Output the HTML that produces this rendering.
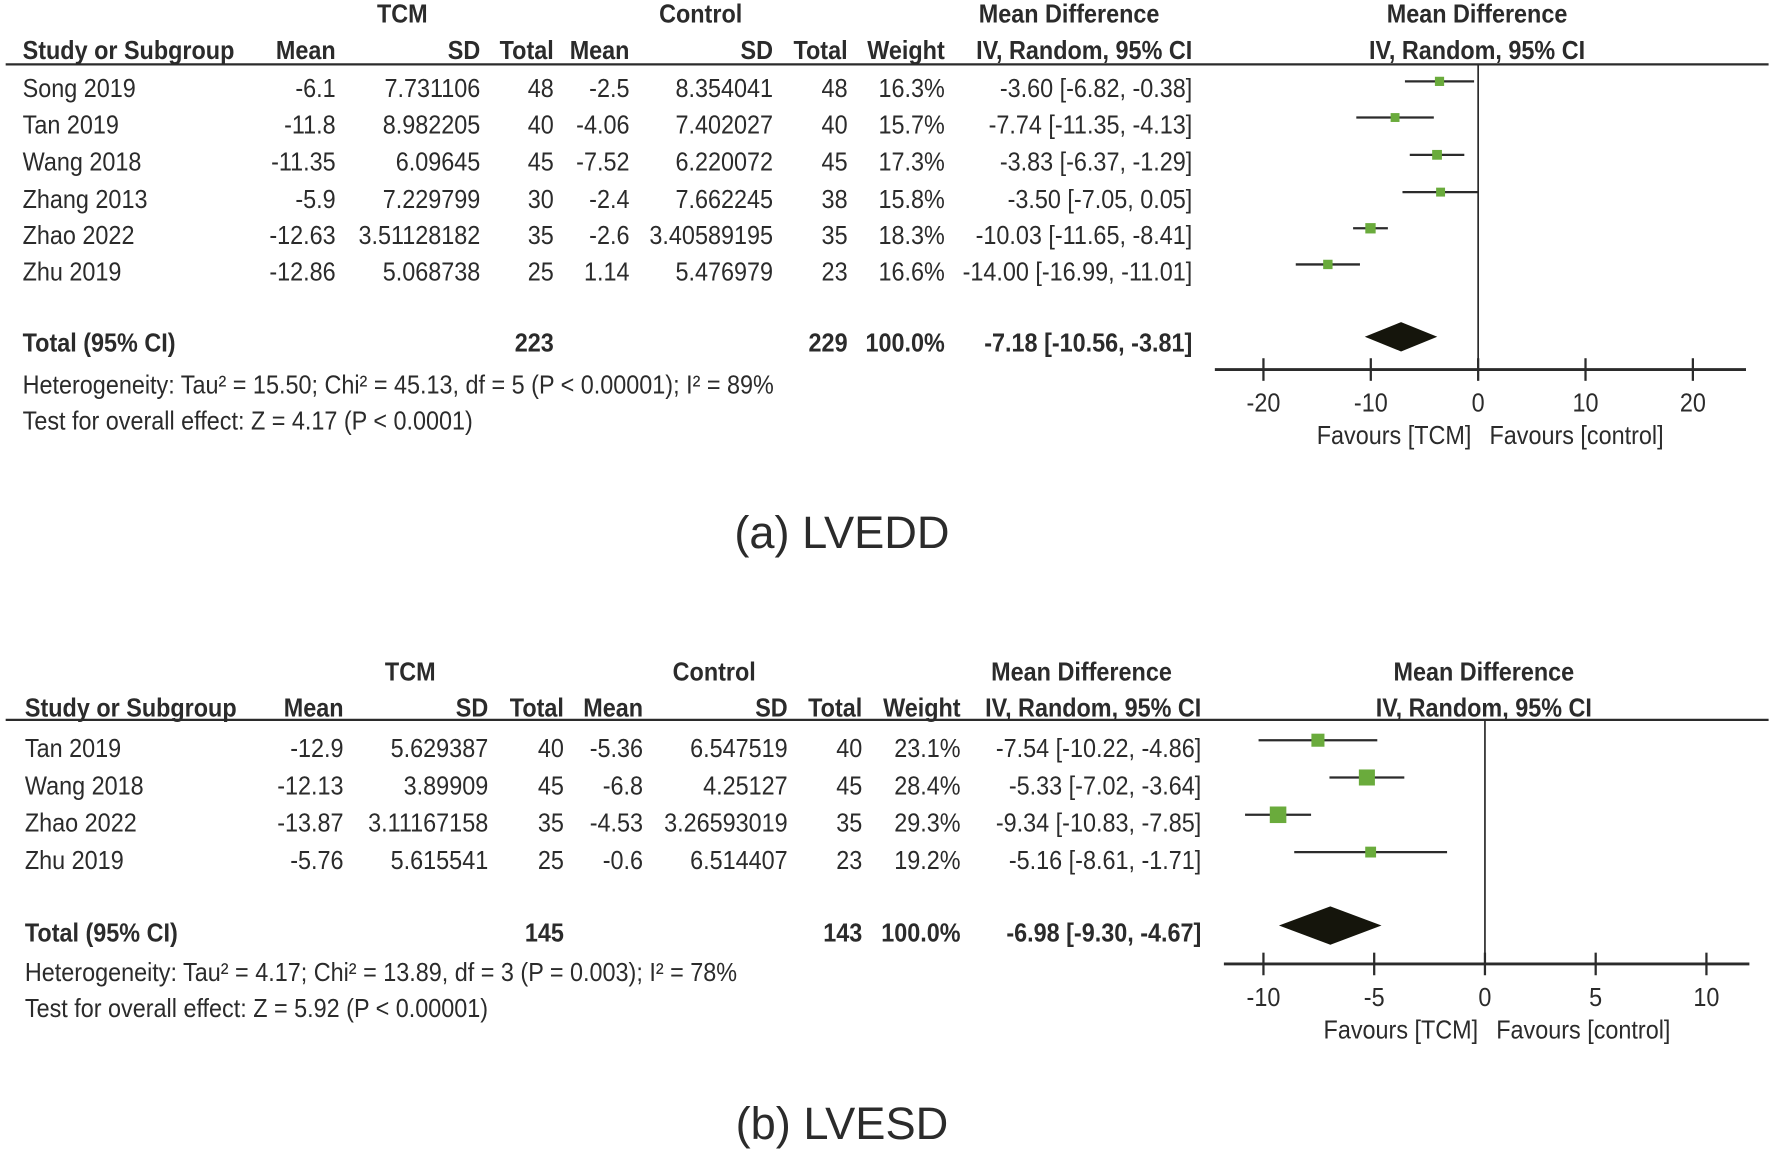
<!DOCTYPE html>
<html><head><meta charset="utf-8"><style>
html,body{margin:0;padding:0;background:#fff;}
svg{display:block;}
text{font-family:"Liberation Sans Narrow","Liberation Sans",sans-serif;fill:#2b2b2b;font-size:23px;}
.b{font-weight:bold;}
</style></head><body>
<svg id="fig" width="1772" height="1152" viewBox="0 0 1568 1019.4" xmlns="http://www.w3.org/2000/svg"></svg>
<script>
// Panel A data (LVEDD)
const aStudies = ["Song 2019","Tan 2019","Wang 2018","Zhang 2013","Zhao 2022","Zhu 2019"];
const aTcmMean = ["-6.1","-11.8","-11.35","-5.9","-12.63","-12.86"];
const aTcmSd = ["7.731106","8.982205","6.09645","7.229799","3.51128182","5.068738"];
const aTcmN = ["48","40","45","30","35","25"];
const aCtlMean = ["-2.5","-4.06","-7.52","-2.4","-2.6","1.14"];
const aCtlSd = ["8.354041","7.402027","6.220072","7.662245","3.40589195","5.476979"];
const aCtlN = ["48","40","45","38","35","23"];
const aWeight = [16.3,15.7,17.3,15.8,18.3,16.6];
const aMd = [-3.60,-7.74,-3.83,-3.50,-10.03,-14.00];
const aLo = [-6.82,-11.35,-6.37,-7.05,-11.65,-16.99];
const aHi = [-0.38,-4.13,-1.29,0.05,-8.41,-11.01];
const aTotal = {md:-7.18, lo:-10.56, hi:-3.81, n1:"223", n2:"229"};
const aTicks = [-20,-10,0,10,20];
// Panel B data (LVESD)
const bStudies = ["Tan 2019","Wang 2018","Zhao 2022","Zhu 2019"];
const bTcmMean = ["-12.9","-12.13","-13.87","-5.76"];
const bTcmSd = ["5.629387","3.89909","3.11167158","5.615541"];
const bTcmN = ["40","45","35","25"];
const bCtlMean = ["-5.36","-6.8","-4.53","-0.6"];
const bCtlSd = ["6.547519","4.25127","3.26593019","6.514407"];
const bCtlN = ["40","45","35","23"];
const bWeight = [23.1,28.4,29.3,19.2];
const bMd = [-7.54,-5.33,-9.34,-5.16];
const bLo = [-10.22,-7.02,-10.83,-8.61];
const bHi = [-4.86,-3.64,-7.85,-1.71];
const bTotal = {md:-6.98, lo:-9.30, hi:-4.67, n1:"145", n2:"143"};
const bTicks = [-10,-5,0,5,10];

const NS="http://www.w3.org/2000/svg";
const svg=document.getElementById('fig');
function mk(tag,attrs,parent){const e=document.createElementNS(NS,tag);for(const k in attrs)e.setAttribute(k,attrs[k]);(parent||svg).appendChild(e);return e;}
function txt(x,y,s,anchor,bold,name,size,g){
  const sx=size?1:0.9;
  const t=mk('text',{x:0,y:0,'text-anchor':anchor||'start',transform:`translate(${x},${y}) scale(${sx},1)`},g);
  if(bold)t.setAttribute('class','b');if(size)t.style.fontSize=size+'px';t.textContent=s;
  
  
  return t;}
const f2=v=>v.toFixed(2);

function panel(o){
  const g=mk('g',{});
  
  
  const y0=o.y0, c=o.cols, TO=o.textOff;
  txt(c.tcmH,y0+20,"TCM",'middle',true,'tcm-header',null,g);
  txt(c.ctlH,y0+20,"Control",'middle',true,'control-header',null,g);
  txt(c.mdH,y0+20,"Mean Difference",'middle',true,'mean-difference-header',null,g);
  txt(c.plotH,y0+20,"Mean Difference",'middle',true,'plot-header',null,g);
  const y1=y0+52;
  txt(c.study,y1,"Study or Subgroup",'start',true,'study-header',null,g);
  txt(c.m1,y1,"Mean",'end',true,'tcm-mean-header',null,g);
  txt(c.s1,y1,"SD",'end',true,'tcm-sd-header',null,g);
  txt(c.n1,y1,"Total",'end',true,'tcm-total-header',null,g);
  txt(c.m2,y1,"Mean",'end',true,'control-mean-header',null,g);
  txt(c.s2,y1,"SD",'end',true,'control-sd-header',null,g);
  txt(c.n2,y1,"Total",'end',true,'control-total-header',null,g);
  txt(c.w,y1,"Weight",'end',true,'weight-header',null,g);
  txt(c.ci,y1,"IV, Random, 95% CI",'end',true,'ci-header',null,g);
  txt(c.plotH,y1,"IV, Random, 95% CI",'middle',true,'plot-ci-header',null,g);
  const hy=y0+o.ruleOff;
  const hl=mk('line',{x1:5,x2:1565,y1:hy,y2:hy,stroke:'#2b2b2b','stroke-width':2},g);
  
  
  const X=v=>o.zeroX+v*o.unit;
  const d=o.d;
  d.st.forEach((s,i)=>{
    const y=o.rowY[i];
    txt(c.study,y+TO,s,'start',false,'study-name',null,g);
    txt(c.m1,y+TO,d.m1[i],'end',false,'tcm-mean',null,g);
    txt(c.s1,y+TO,d.s1[i],'end',false,'tcm-sd',null,g);
    txt(c.n1,y+TO,d.n1[i],'end',false,'tcm-total',null,g);
    txt(c.m2,y+TO,d.m2[i],'end',false,'control-mean',null,g);
    txt(c.s2,y+TO,d.s2[i],'end',false,'control-sd',null,g);
    txt(c.n2,y+TO,d.n2[i],'end',false,'control-total',null,g);
    txt(c.w,y+TO,d.w[i].toFixed(1)+'%','end',false,'weight',null,g);
    txt(c.ci,y+TO,f2(d.md[i])+' ['+f2(d.lo[i])+', '+f2(d.hi[i])+']','end',false,'ci-text',null,g);
    const l=mk('line',{x1:X(d.lo[i]),x2:X(d.hi[i]),y1:y,y2:y,stroke:'#2b2b2b','stroke-width':2},g);
    
    
    const sz=d.w[i]*o.sq;
    const r=mk('rect',{x:X(d.md[i])-sz/2,y:y-sz/2,width:sz,height:sz,fill:'#6aab3c'},g);
    
    
  });
  const ty=o.totY;
  txt(c.study,ty+TO-1,"Total (95% CI)",'start',true,'total-label',null,g);
  txt(c.n1,ty+TO-1,o.tot.n1,'end',true,'tcm-total-sum',null,g);
  txt(c.n2,ty+TO-1,o.tot.n2,'end',true,'control-total-sum',null,g);
  txt(c.w,ty+TO-1,"100.0%",'end',true,'total-weight',null,g);
  txt(c.ci,ty+TO-1,f2(o.tot.md)+' ['+f2(o.tot.lo)+', '+f2(o.tot.hi)+']','end',true,'total-ci',null,g);
  const dh=o.dh;
  const dm=mk('polygon',{points:`${X(o.tot.lo)},${ty} ${X(o.tot.md)},${ty-dh} ${X(o.tot.hi)},${ty} ${X(o.tot.md)},${ty+dh}`,fill:'#15150c'},g);
  
  
  txt(c.study,o.hetY,o.het,'start',false,'heterogeneity-text',null,g);
  txt(c.study,o.hetY+32,o.test,'start',false,'overall-effect-text',null,g);
  const zl=mk('line',{x1:X(0),x2:X(0),y1:hy,y2:o.axY,stroke:'#2b2b2b','stroke-width':1.5},g);
  
  
  const ax=mk('line',{x1:o.axX1,x2:o.axX2,y1:o.axY,y2:o.axY,stroke:'#2b2b2b','stroke-width':2.5},g);
  
  
  o.ticks.forEach(t=>{
    const tk=mk('line',{x1:X(t),x2:X(t),y1:o.axY-10,y2:o.axY+10,stroke:'#2b2b2b','stroke-width':2},g);
    
    
    txt(X(t),o.axY+37,String(t),'middle',false,'x-tick-label',null,g);
  });
  txt(X(0)-6,o.axY+66,"Favours [TCM]",'end',false,'favours-tcm-label',null,g);
  txt(X(0)+10,o.axY+66,"Favours [control]",'start',false,'favours-control-label',null,g);
  txt(745,o.capY,o.cap,'middle',false,'panel-caption',40,g);
}

panel({id:'lvedd',y0:0,ruleOff:57,textOff:14,
  cols:{tcmH:356,ctlH:620,mdH:946,plotH:1307,study:20,m1:297,s1:425,n1:490,m2:557,s2:684,n2:750,w:836,ci:1055},
  d:{st:aStudies,m1:aTcmMean,s1:aTcmSd,n1:aTcmN,m2:aCtlMean,s2:aCtlSd,n2:aCtlN,w:aWeight,md:aMd,lo:aLo,hi:aHi},
  rowY:[72,104,137,170,202,234],totY:298,tot:aTotal,dh:13,sq:0.5,
  zeroX:1308,unit:9.5,ticks:aTicks,axX1:1075,axX2:1545,axY:327,
  het:"Heterogeneity: Tau² = 15.50; Chi² = 45.13, df = 5 (P < 0.00001); I² = 89%",
  test:"Test for overall effect: Z = 4.17 (P < 0.0001)",hetY:348,capY:485,cap:"(a) LVEDD"});
panel({id:'lvesd',y0:582,ruleOff:55,textOff:15,
  cols:{tcmH:363,ctlH:632,mdH:957,plotH:1313,study:22,m1:304,s1:432,n1:499,m2:569,s2:697,n2:763,w:850,ci:1063},
  d:{st:bStudies,m1:bTcmMean,s1:bTcmSd,n1:bTcmN,m2:bCtlMean,s2:bCtlSd,n2:bCtlN,w:bWeight,md:bMd,lo:bLo,hi:bHi},
  rowY:[655,688,721,754],totY:819,tot:bTotal,dh:17,sq:0.5,
  zeroX:1314,unit:19.6,ticks:bTicks,axX1:1083,axX2:1548,axY:853,
  het:"Heterogeneity: Tau² = 4.17; Chi² = 13.89, df = 3 (P = 0.003); I² = 78%",
  test:"Test for overall effect: Z = 5.92 (P < 0.00001)",hetY:868,capY:1008,cap:"(b) LVESD"});
</script>
</body></html>
